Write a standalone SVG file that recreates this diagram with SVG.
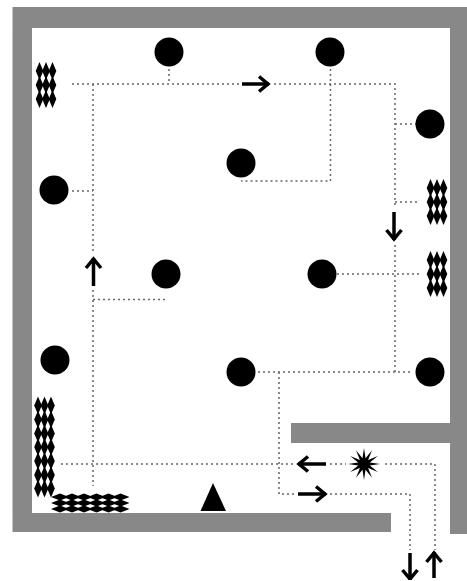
<svg xmlns="http://www.w3.org/2000/svg" width="467" height="581" viewBox="0 0 467 581">
<style>
.wall{fill:#888}
.dot{fill:#000}
.wire{fill:none;stroke:#666;stroke-width:1.500;stroke-dasharray:2 3}
.arrow{fill:none;stroke:#000;stroke-width:3.500;marker-end:url(#head)}
</style>
<defs>
<filter id="soft" x="0" y="0" width="100%" height="100%"><feGaussianBlur stdDeviation="0.550"/></filter>
<marker id="head" markerUnits="userSpaceOnUse" markerWidth="18" markerHeight="22" refX="13" refY="10" orient="auto" overflow="visible">
<path d="M3 2.500 L12 10 L3 17.500" fill="none" stroke="#000" stroke-width="3.500"/>
</marker>
<polygon id="dv" points="0,-9 3.800,0 0,9 -3.800,0"/>
<polygon id="dh" points="-9,0 0,-3.400 9,0 0,3.400"/>
</defs>
<rect width="467" height="581" fill="#fff"/>
<g filter="url(#soft)">
<g id="walls">
<path class="wall" d="M12.500 7H467V534H450V443H291V423H450V28H32V513H391V532H12.500Z"/>
</g>
<g id="connectors">
<path class="wire" d="M72 84H240M274 84H395V205M395 245V372M169 69V84M330.500 69V181H241M395 124H416M395 202H420M337 274H420M258 372H412M279 372V494H295M330 494H410V550M61 464H296M330 464H346M385 464H435V550M93 84V253M93 290V486M93 299.500H167M72 191H93"/>
<path class="arrow" d="M242 84H269"/>
<path class="arrow" d="M394 212V240"/>
<path class="arrow" d="M93.500 286V258"/>
<path class="arrow" d="M326 464H298"/>
<path class="arrow" d="M298 494H326"/>
<path class="arrow" d="M410 553V580"/>
<path class="arrow" d="M434 578V552"/>
</g>
<g id="n1"><circle class="dot" cx="169" cy="52" r="14.500"/></g>
<g id="n2"><circle class="dot" cx="330" cy="52" r="14.500"/></g>
<g id="n3"><circle class="dot" cx="430" cy="124" r="14.500"/></g>
<g id="n4"><circle class="dot" cx="241" cy="163" r="14.500"/></g>
<g id="n5"><circle class="dot" cx="54" cy="190" r="14.500"/></g>
<g id="n6"><circle class="dot" cx="166" cy="274" r="14.500"/></g>
<g id="n7"><circle class="dot" cx="322" cy="274" r="14.500"/></g>
<g id="n8"><circle class="dot" cx="55" cy="360" r="14.500"/></g>
<g id="n9"><circle class="dot" cx="241" cy="372" r="14.500"/></g>
<g id="n10"><circle class="dot" cx="430" cy="372" r="14.500"/></g>
<g id="rack-top-left">
<use href="#dv" x="39.500" y="71"/><use href="#dv" x="46" y="71"/><use href="#dv" x="52.500" y="71"/>
<use href="#dv" x="39.500" y="85"/><use href="#dv" x="46" y="85"/><use href="#dv" x="52.500" y="85"/>
<use href="#dv" x="39.500" y="99"/><use href="#dv" x="46" y="99"/><use href="#dv" x="52.500" y="99"/>
</g>
<g id="rack-right-1">
<use href="#dv" x="430.500" y="188"/><use href="#dv" x="437" y="188"/><use href="#dv" x="443.500" y="188"/>
<use href="#dv" x="430.500" y="202"/><use href="#dv" x="437" y="202"/><use href="#dv" x="443.500" y="202"/>
<use href="#dv" x="430.500" y="216"/><use href="#dv" x="437" y="216"/><use href="#dv" x="443.500" y="216"/>
</g>
<g id="rack-right-2">
<use href="#dv" x="430.500" y="260"/><use href="#dv" x="437" y="260"/><use href="#dv" x="443.500" y="260"/>
<use href="#dv" x="430.500" y="274"/><use href="#dv" x="437" y="274"/><use href="#dv" x="443.500" y="274"/>
<use href="#dv" x="430.500" y="288"/><use href="#dv" x="437" y="288"/><use href="#dv" x="443.500" y="288"/>
</g>
<g id="rack-left">
<use href="#dv" x="38" y="405.500"/><use href="#dv" x="44.500" y="405.500"/><use href="#dv" x="51" y="405.500"/>
<use href="#dv" x="38" y="419.500"/><use href="#dv" x="44.500" y="419.500"/><use href="#dv" x="51" y="419.500"/>
<use href="#dv" x="38" y="433.500"/><use href="#dv" x="44.500" y="433.500"/><use href="#dv" x="51" y="433.500"/>
<use href="#dv" x="38" y="447"/><use href="#dv" x="44.500" y="447"/><use href="#dv" x="51" y="447"/>
<use href="#dv" x="38" y="461"/><use href="#dv" x="44.500" y="461"/><use href="#dv" x="51" y="461"/>
<use href="#dv" x="38" y="475"/><use href="#dv" x="44.500" y="475"/><use href="#dv" x="51" y="475"/>
<use href="#dv" x="38" y="488.500"/><use href="#dv" x="44.500" y="488.500"/><use href="#dv" x="51" y="488.500"/>
</g>
<g id="rack-bottom">
<use href="#dh" x="60" y="497"/><use href="#dh" x="72" y="497"/><use href="#dh" x="84" y="497"/><use href="#dh" x="96.500" y="497"/><use href="#dh" x="108.500" y="497"/><use href="#dh" x="120.500" y="497"/>
<use href="#dh" x="60" y="503"/><use href="#dh" x="72" y="503"/><use href="#dh" x="84" y="503"/><use href="#dh" x="96.500" y="503"/><use href="#dh" x="108.500" y="503"/><use href="#dh" x="120.500" y="503"/>
<use href="#dh" x="60" y="509"/><use href="#dh" x="72" y="509"/><use href="#dh" x="84" y="509"/><use href="#dh" x="96.500" y="509"/><use href="#dh" x="108.500" y="509"/><use href="#dh" x="120.500" y="509"/>
</g>
<g id="triangle"><polygon class="dot" points="213,483 226,511 200.500,511"/></g>
<g id="star"><polygon class="dot" transform="translate(364 464)" points="16,0 5.800,1.550 13.860,8 4.100,4.100 8,13.860 1.550,5.800 0,16 -1.550,5.800 -8,13.860 -4.100,4.100 -13.860,8 -5.800,1.550 -16,0 -5.800,-1.550 -13.860,-8 -4.100,-4.100 -8,-13.860 -1.550,-5.800 0,-16 1.550,-5.800 8,-13.860 4.100,-4.100 13.860,-8 5.800,-1.550"/></g>
</g>
</svg>
